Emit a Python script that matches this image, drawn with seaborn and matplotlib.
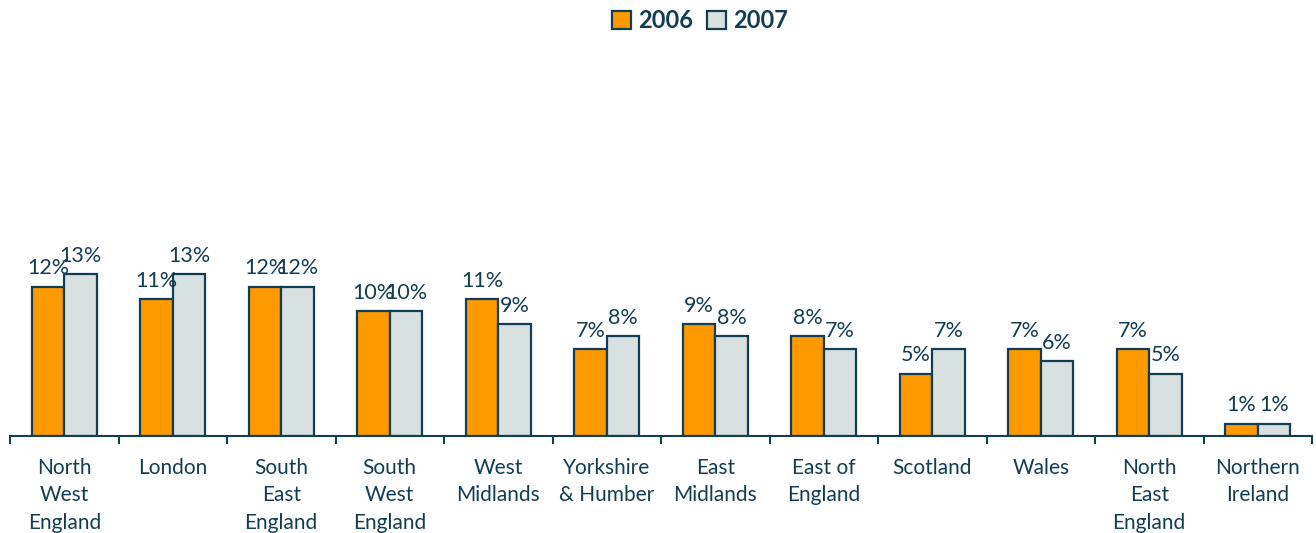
import pandas as pd
import numpy as np
import matplotlib.pyplot as plt
import seaborn as sns
from matplotlib.ticker import FixedLocator

# Dados
regions = ['North\nWest\nEngland', 'London', 'South\nEast\nEngland', 'South\nWest\nEngland',
           'West\nMidlands', 'Yorkshire\n& Humber', 'East\nMidlands', 'East of\nEngland',
           'Scotland', 'Wales', 'North\nEast\nEngland', 'Northern\nIreland']
share_2006 = [12, 11, 12, 10, 11, 7, 9, 8, 5, 7, 7, 1]
share_2007 = [13, 13, 12, 10, 9, 8, 8, 7, 7, 6, 5, 1]
years = ['2006', '2007']

df = pd.DataFrame({
    'region': regions * 2,
    'share': share_2006 + share_2007,
    'year': [years[0]] * len(regions) + [years[1]] * len(regions),
})

navy = '#113d55'
palette = {'2006': '#ff9900', '2007': '#d9e1e0'}

sns.set_style('white')
plt.rcParams['font.family'] = ['Lato', 'DejaVu Sans']

fig = plt.figure(figsize=(13.16, 5.33), dpi=100)
ax = fig.add_axes([10 / 1316, 97 / 533, 1302 / 1316, 386 / 533])

sns.barplot(data=df, x='region', y='share', hue='year', palette=palette, saturation=1,
            width=0.6, edgecolor=navy, linewidth=1.6, ax=ax, legend=True)

for cont in ax.containers:
    ax.bar_label(cont, labels=[f'{int(v)}%' for v in cont.datavalues],
                 padding=6, fontsize=15.5, color=navy)

ax.set_xlim(-0.5, len(regions) - 0.5)
ax.set_ylim(0, 31)
ax.set_xlabel('')
ax.set_ylabel('')
ax.set_yticks([])
for s in ['left', 'right', 'top']:
    ax.spines[s].set_visible(False)
ax.spines['bottom'].set_color(navy)
ax.spines['bottom'].set_linewidth(1.5)

ax.tick_params(axis='x', which='major', bottom=False, length=0, pad=16,
               labelsize=15, labelcolor=navy)
ax.xaxis.set_minor_locator(FixedLocator(np.arange(-0.5, len(regions), 1.0)))
ax.tick_params(axis='x', which='minor', bottom=True, length=6, width=1.5,
               color=navy, direction='out')
for lbl in ax.get_xticklabels():
    lbl.set_linespacing(1.45)

ax.get_legend().remove()
handles, labels = ax.get_legend_handles_labels()
leg = fig.legend(handles, labels, loc='center', bbox_to_anchor=(700 / 1316, 1 - 21 / 533),
                 ncol=2, frameon=False, handlelength=0.8, handleheight=0.8,
                 handletextpad=0.3, columnspacing=0.6,
                 prop={'size': 17, 'weight': 'bold'})
for t in leg.get_texts():
    t.set_color(navy)

fig.savefig('out.png', dpi=100)
